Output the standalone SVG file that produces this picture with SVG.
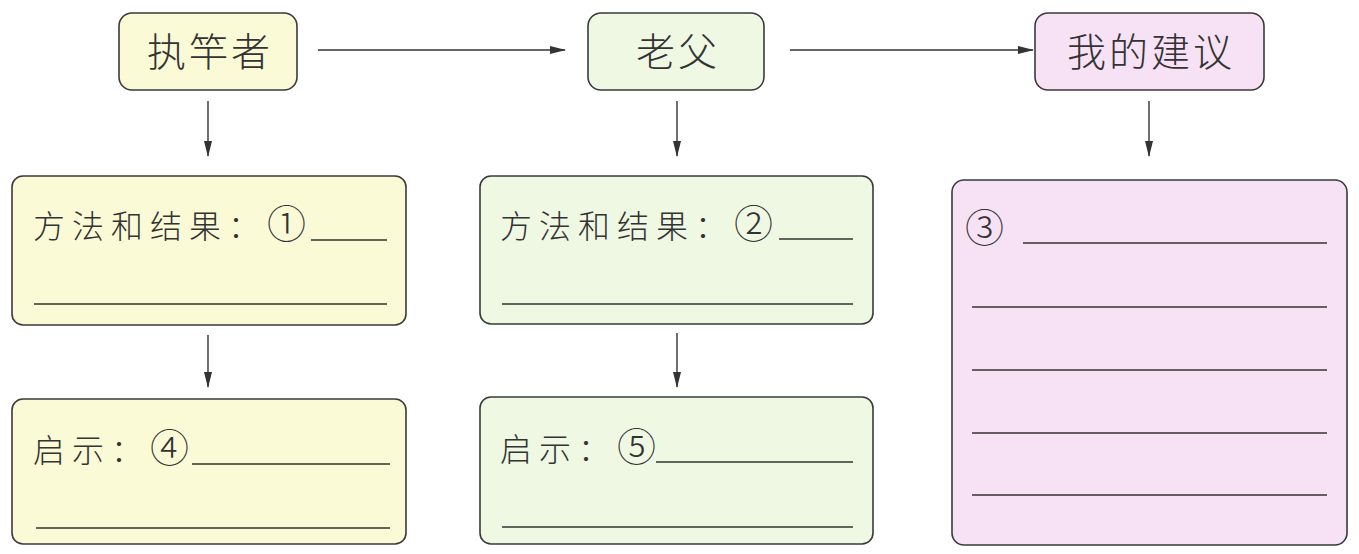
<svg xmlns="http://www.w3.org/2000/svg" width="1359" height="554" viewBox="0 0 1359 554">
<defs>
<style>
.box{stroke:#3a3a3a;stroke-width:1.6}
.y{fill:#fbfad7}
.g{fill:#eff8e3}
.p{fill:#f7e2f5}
.t{font-family:"Noto Sans CJK SC","Noto Sans CJK JP",sans-serif;fill:#333;font-weight:300}
.title{font-size:39px;letter-spacing:3px;text-anchor:middle}
.lbl{font-size:32px;letter-spacing:7px}
.num{font-size:39px;font-weight:300}
.ul{stroke:#333;stroke-width:1.6}
.c{stroke:#333;stroke-width:1.4;fill:none;marker-end:url(#ah)}
</style>
<marker id="ah" markerWidth="16" markerHeight="8" refX="15" refY="4" orient="auto" markerUnits="userSpaceOnUse">
<path d="M0,0 L16,4 L0,8 Z" fill="#333"/>
</marker>
</defs>
<rect width="1359" height="554" fill="#ffffff"/>
<g id="connectors">
<line class="c" x1="318" y1="50" x2="565" y2="50"/>
<line class="c" x1="790" y1="50" x2="1033" y2="50"/>
<line class="c" x1="208" y1="101" x2="208" y2="156"/>
<line class="c" x1="677" y1="101" x2="677" y2="156"/>
<line class="c" x1="1149" y1="101" x2="1149" y2="156"/>
<line class="c" x1="208" y1="335" x2="208" y2="387"/>
<line class="c" x1="677" y1="333" x2="677" y2="387"/>
</g>
<g id="n1">
<rect class="box y" x="119" y="13" width="178" height="77" rx="13"/>
<text class="t title" x="210" y="66">执竿者</text>
</g>
<g id="n2">
<rect class="box g" x="588" y="13" width="176" height="77" rx="13"/>
<text class="t title" x="678" y="66">老父</text>
</g>
<g id="n3">
<rect class="box p" x="1035" y="13" width="229" height="77" rx="13"/>
<text class="t title" x="1151" y="66">我的建议</text>
</g>
<g id="n4">
<rect class="box y" x="12" y="176" width="394" height="149" rx="11"/>
<text class="t lbl" x="33" y="238">方法和结果：<tspan class="num">①</tspan></text>
<line class="ul" x1="311" y1="240" x2="387" y2="240"/>
<line class="ul" x1="34" y1="304" x2="387" y2="304"/>
</g>
<g id="n5">
<rect class="box g" x="480" y="176" width="393" height="148" rx="11"/>
<text class="t lbl" x="500" y="238">方法和结果：<tspan class="num">②</tspan></text>
<line class="ul" x1="779" y1="239" x2="853" y2="239"/>
<line class="ul" x1="502" y1="304" x2="853" y2="304"/>
</g>
<g id="n6">
<rect class="box p" x="952" y="180" width="395" height="365" rx="12"/>
<text class="t lbl num" x="965" y="242">③</text>
<line class="ul" x1="1023" y1="243" x2="1327" y2="243"/>
<line class="ul" x1="972" y1="307" x2="1327" y2="307"/>
<line class="ul" x1="972" y1="370" x2="1327" y2="370"/>
<line class="ul" x1="972" y1="433" x2="1327" y2="433"/>
<line class="ul" x1="972" y1="495" x2="1327" y2="495"/>
</g>
<g id="n7">
<rect class="box y" x="12" y="399" width="394" height="145" rx="11"/>
<text class="t lbl" x="33" y="462">启示：<tspan class="num">④</tspan></text>
<line class="ul" x1="192" y1="464" x2="390" y2="464"/>
<line class="ul" x1="36" y1="528" x2="390" y2="528"/>
</g>
<g id="n8">
<rect class="box g" x="480" y="397" width="393" height="147" rx="11"/>
<text class="t lbl" x="500" y="461">启示：<tspan class="num">⑤</tspan></text>
<line class="ul" x1="656" y1="462" x2="853" y2="462"/>
<line class="ul" x1="502" y1="527" x2="853" y2="527"/>
</g>
</svg>
